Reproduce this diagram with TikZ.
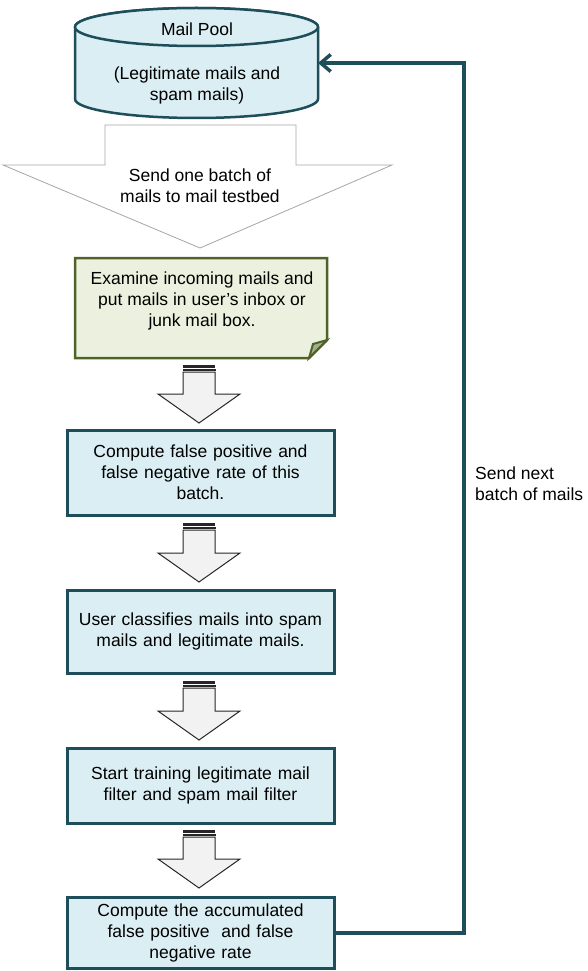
\documentclass[tikz,border=0pt]{standalone}
\usepackage{fontspec}
\setmainfont{Liberation Sans}
\usetikzlibrary{arrows.meta}
\definecolor{boxfill}{HTML}{DAEEF3}
\definecolor{boxline}{HTML}{1F4E5B}
\definecolor{notefill}{HTML}{EBF1DE}
\definecolor{noteline}{HTML}{4F6228}
\definecolor{notefold}{HTML}{A3AE8C}
\definecolor{bigline}{HTML}{A6A6A6}
\definecolor{arrfill}{HTML}{F2F2F2}
\definecolor{arrline}{HTML}{262626}
\newcommand\stripedarrow[3]{%
  \fill[arrline] (183,-#1) rectangle (215,-#1-3);
  \draw[arrline,line width=0.8pt,fill=arrfill] (183,-#1-4.2) rectangle (215,-#1-5.6);
  \draw[arrline,line width=1pt,fill=arrfill,line join=miter]
    (183,-#1-7) -- (215,-#1-7) -- (215,-#2) -- (240,-#2) -- (199,-#3)
    -- (158,-#2) -- (183,-#2) -- cycle;
}
\tikzset{
  txt/.style={font=\fontsize{17.5}{21}\selectfont, align=center, inner sep=0pt},
  stepbox/.style={txt, draw=boxline, fill=boxfill, line width=3pt,
    minimum width=267pt, text width=250pt},
  fb/.style={draw=boxline, line width=4pt, line join=miter,
    -{Straight Barb[length=10pt,width=17pt,line width=3.5pt]}},
}
\begin{document}
\begin{tikzpicture}[x=1pt,y=1pt]
\useasboundingbox (0,0) rectangle (587,-971);
% cylinder
\draw[boxline,fill=boxfill,line width=2.5pt]
  (75,-27) -- (75,-99) arc[start angle=180,end angle=360,x radius=121.5,y radius=19]
  -- (318,-27) arc[start angle=0,end angle=180,x radius=121.5,y radius=19] -- cycle;
\draw[boxline,fill=boxfill,line width=2.5pt] (196.5,-27) ellipse[x radius=121.5,y radius=19];
\node[txt] (pooltitle) at (197,-29) {Mail Pool};
\node[txt] (pool) at (197,-85) {(Legitimate mails and\\spam mails)};
\coordinate (poolin) at (318,-63);
% big arrow
\draw[bigline,fill=white,line width=0.8pt,line join=miter]
  (105,-125) -- (296,-125) -- (296,-165) -- (392,-165) -- (200,-248)
  -- (3,-165) -- (105,-165) -- cycle;
\node[txt] (send) at (200,-186) {Send one batch of\\mails to mail testbed};
% note box
\draw[noteline,fill=notefill,line width=2.5pt,line join=miter]
  (75,-258) -- (327,-258) -- (327,-340) -- (309,-358) -- (75,-358) -- cycle;
\draw[noteline,fill=notefold,line width=2pt,line join=miter]
  (327,-340) -- (313,-344) -- (309,-358) -- cycle;
\node[txt] (exam) at (202,-301) {Examine incoming mails and\\put mails in user’s inbox or\\junk mail box.};
% steps
\node[stepbox, minimum height=85pt] (b1) at (200.5,-472.5) {Compute false positive and\\false negative rate of this\\batch.};
\node[stepbox, minimum height=83pt] (b2) at (200.5,-631.5) {User classifies mails into spam\\mails and legitimate mails.};
\node[stepbox, minimum height=75pt] (b3) at (200.5,-785.5) {Start training legitimate mail\\filter and spam mail filter};
\node[stepbox, minimum height=71pt] (b4) at (200.5,-932.5) {Compute the accumulated\\false positive\ \ and false\\negative rate};
% striped arrows
\stripedarrow{365}{394}{423}
\stripedarrow{523}{553}{582}
\stripedarrow{681}{711}{740}
\stripedarrow{830}{859}{888}
% feedback
\coordinate (fbx) at (464,-500);
\draw[fb] (b4.east) -| (fbx) |- (poolin);
\node[txt, anchor=west, align=left] (fblabel) at (475,-484) {Send next\\batch of mails};
\end{tikzpicture}
\end{document}
